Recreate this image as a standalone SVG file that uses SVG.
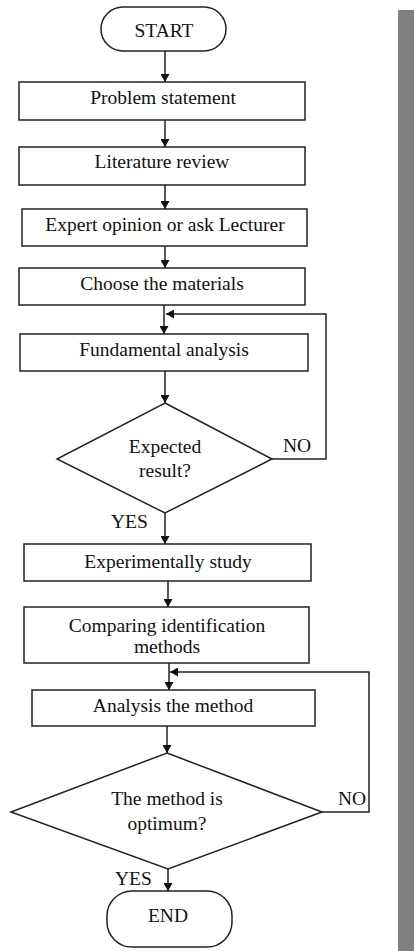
<svg xmlns="http://www.w3.org/2000/svg" width="414" height="951" viewBox="0 0 414 951">
<style>
.n{fill:#fff;stroke:#222;stroke-width:1.5}
.c{fill:none;stroke:#222;stroke-width:1.5}
text{font-family:"Liberation Serif","Times New Roman",serif;font-size:19.5px;fill:#111;text-anchor:middle}
.l{text-anchor:start}
</style>
<defs>
<marker id="a" markerUnits="userSpaceOnUse" markerWidth="10" markerHeight="9" refX="8" refY="4.5" orient="auto">
<path d="M0,0 L8,4.5 L0,9 Z" fill="#111"/>
</marker>
</defs>
<rect width="414" height="951" fill="#fff"/>
<rect x="398" y="10" width="16" height="941" fill="#808080"/>
<g id="connectors">
<line class="c" x1="165" y1="51" x2="165" y2="82" marker-end="url(#a)"/>
<line class="c" x1="165" y1="120" x2="165" y2="147" marker-end="url(#a)"/>
<line class="c" x1="165" y1="185" x2="165" y2="209" marker-end="url(#a)"/>
<line class="c" x1="165" y1="246" x2="165" y2="268" marker-end="url(#a)"/>
<line class="c" x1="164" y1="305" x2="164" y2="334" marker-end="url(#a)"/>
<line class="c" x1="165" y1="371" x2="165" y2="403" marker-end="url(#a)"/>
<polyline class="c" points="272,459 326,459 326,314 166,314" marker-end="url(#a)"/>
<line class="c" x1="165" y1="513" x2="165" y2="544" marker-end="url(#a)"/>
<line class="c" x1="168" y1="581" x2="168" y2="607" marker-end="url(#a)"/>
<line class="c" x1="169" y1="663" x2="169" y2="690" marker-end="url(#a)"/>
<polyline class="c" points="322,812 369,812 369,672 170,672" marker-end="url(#a)"/>
<line class="c" x1="167" y1="726" x2="167" y2="753" marker-end="url(#a)"/>
<line class="c" x1="168" y1="869" x2="168" y2="891" marker-end="url(#a)"/>
<text class="l" x="283" y="452">NO</text>
<text class="l" x="111" y="528">YES</text>
<text class="l" x="338" y="805">NO</text>
<text class="l" x="115" y="885">YES</text>
</g>
<g id="start"><rect class="n" x="101" y="7" width="125" height="44" rx="22"/><text x="164" y="37">START</text></g>
<g id="problem"><rect class="n" x="19" y="82" width="286" height="38"/><text x="163" y="104">Problem statement</text></g>
<g id="literature"><rect class="n" x="19" y="147" width="286" height="38"/><text x="162" y="168">Literature review</text></g>
<g id="expert"><rect class="n" x="22" y="209" width="285" height="37"/><text x="165" y="231">Expert opinion or ask Lecturer</text></g>
<g id="materials"><rect class="n" x="19" y="268" width="286" height="37"/><text x="162" y="290">Choose the materials</text></g>
<g id="fundamental"><rect class="n" x="20" y="334" width="288" height="37"/><text x="164" y="356">Fundamental analysis</text></g>
<g id="expected"><polygon class="n" points="165,403 272,459 165,513 57,459"/><text x="165" y="453">Expected</text><text x="165" y="477">result?</text></g>
<g id="experimental"><rect class="n" x="24" y="544" width="287" height="37"/><text x="168" y="568">Experimentally study</text></g>
<g id="comparing"><rect class="n" x="24" y="607" width="285" height="56"/><text x="167" y="632">Comparing identification</text><text x="167" y="653">methods</text></g>
<g id="analysis"><rect class="n" x="32" y="690" width="283" height="36"/><text x="173" y="712">Analysis the method</text></g>
<g id="optimum"><polygon class="n" points="167,753 322,812 168,869 11,812"/><text x="167" y="805">The method is</text><text x="167" y="830">optimum?</text></g>
<g id="end"><rect class="n" x="107" y="891" width="125" height="56" rx="25"/><text x="168" y="922">END</text></g>
</svg>
